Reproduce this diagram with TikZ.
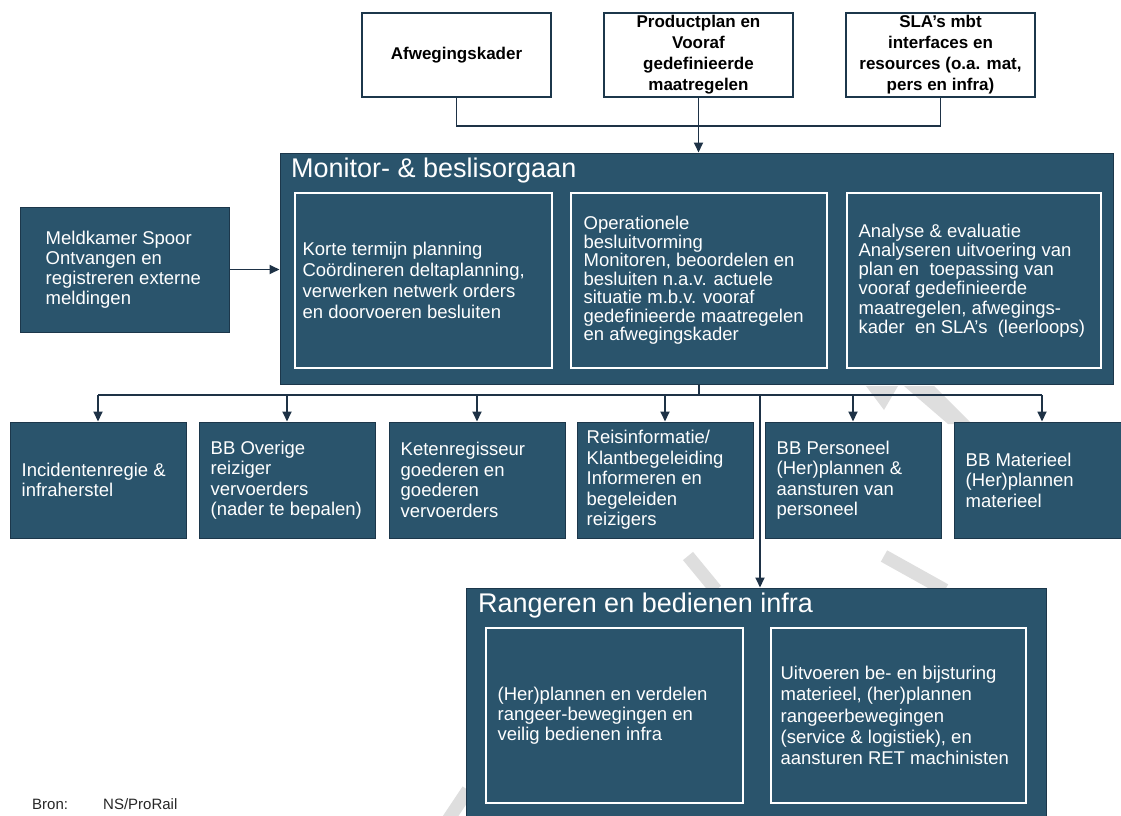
\documentclass[tikz,border=0pt]{standalone}
\usepackage{fontspec}
\setmainfont{Liberation Sans}
\usetikzlibrary{arrows.meta}
\definecolor{boxfill}{RGB}{42,84,108}
\definecolor{boxline}{RGB}{28,55,75}
\definecolor{conncol}{RGB}{30,50,70}
\definecolor{wmark}{RGB}{222,222,222}
\begin{document}
\begin{tikzpicture}[x=1pt,y=-1pt,
  darkbox/.style={draw=boxline, fill=boxfill, line width=1pt, rectangle, inner sep=0pt},
  innerbox/.style={draw=white, line width=1.2pt, rectangle, inner sep=0pt},
  topbox/.style={draw=boxline, fill=white, line width=1.3pt, rectangle, inner sep=0pt,
    minimum width=189pt, minimum height=84pt,
    font=\fontsize{17}{21}\selectfont\bfseries, align=center, text=black},
  wtext/.style={text=white, align=left, anchor=west, inner sep=0pt, font=\fontsize{18.5}{20.5}\selectfont},
  lowbox/.style={darkbox, minimum width=176pt, minimum height=116pt},
  titletext/.style={text=white, anchor=base west, inner sep=0pt, font=\fontsize{27}{30}\selectfont},
  conn/.style={draw=conncol, line width=1.8pt},
  arr/.style={conn, -{Triangle[length=10pt,width=9pt]}},
  srctext/.style={anchor=base west, inner sep=0pt, font=\fontsize{15}{17}\selectfont, text=black!85},
  wm/.style={draw=wmark, line width=13pt},
]
\useasboundingbox (0,0) rectangle (1121,816);
\clip (0,0) rectangle (1121,816);

% faint watermark strokes (background)
\fill[wmark] (866,386) -- (898,386) -- (884,410) -- cycle;
\fill[wmark] (904,386) -- (934,386) -- (972,424) -- (948,424) -- cycle;
\draw[wm] (688,556) -- (716,590);
\draw[wm] (884,556) -- (945,590);
\draw[wm] (448,820) -- (468,790);

% top boxes
\node[topbox] (afw) at (456.5,55) {Afwegingskader};
\node[topbox] (prod) at (698.5,55) {Productplan en\\Vooraf\\gedefinieerde\\maatregelen};
\node[topbox] (sla) at (940.5,55) {SLA’s mbt\\interfaces en\\resources (o.a. mat,\\pers en infra)};

% monitor
\node[darkbox, minimum width=833pt, minimum height=231pt] (mon) at (696.5,268.5) {};
\node[titletext] (montitle) at (291,177) {Monitor- \& beslisorgaan};
\node[innerbox, minimum width=257pt, minimum height=175pt] (korte) at (423.5,280.5) {};
\node[wtext, font=\fontsize{18.5}{21}\selectfont] (korte-t) at ([xshift=8pt]korte.west)
  {Korte termijn planning\\Coördineren deltaplanning,\\verwerken netwerk orders\\en doorvoeren besluiten};
\node[innerbox, minimum width=256pt, minimum height=175pt] (oper) at (699,280.5) {};
\node[wtext, font=\fontsize{18.5}{18.5}\selectfont] (oper-t) at ([xshift=13pt]oper.west)
  {Operationele\\besluitvorming\\Monitoren, beoordelen en\\besluiten n.a.v. actuele\\situatie m.b.v. vooraf\\gedefinieerde maatregelen\\en afwegingskader};
\node[innerbox, minimum width=254pt, minimum height=175pt] (ana) at (974,280.5) {};
\node[wtext, font=\fontsize{18.5}{19.3}\selectfont] (ana-t) at ([xshift=12pt]ana.west)
  {Analyse \& evaluatie\\Analyseren uitvoering van\\plan en\ \ toepassing van\\vooraf gedefinieerde\\maatregelen, afwegings-\\kader\ \ en SLA’s\ \ (leerloops)};

% meldkamer
\node[darkbox, minimum width=209pt, minimum height=125pt] (meld) at (124.5,269.5) {};
\node[wtext, font=\fontsize{18.5}{20}\selectfont] (meld-t) at ([xshift=26pt]meld.west)
  {Meldkamer Spoor\\Ontvangen en\\registreren externe\\meldingen};

% lower boxes
\node[lowbox] (inc) at (98,480) {};
\node[wtext] (inc-t) at ([xshift=12pt]inc.west) {Incidentenregie \&\\infraherstel};
\node[lowbox] (ovr) at (287,480) {};
\node[wtext] (ovr-t) at ([xshift=12pt]ovr.west) {BB Overige\\reiziger\\vervoerders\\(nader te bepalen)};
\node[lowbox] (ket) at (477,480) {};
\node[wtext] (ket-t) at ([xshift=12pt]ket.west) {Ketenregisseur\\goederen en\\goederen\\vervoerders};
\node[lowbox] (rei) at (665,480) {};
\node[wtext] (rei-t) at ([xshift=10pt]rei.west) {Reisinformatie/\\Klantbegeleiding\\Informeren en\\begeleiden\\reizigers};
\node[lowbox] (per) at (853,480) {};
\node[wtext] (per-t) at ([xshift=12pt]per.west) {BB Personeel\\(Her)plannen \&\\aansturen van\\personeel};
\node[lowbox] (mat) at (1042,480) {};
\node[wtext] (mat-t) at ([xshift=12pt]mat.west) {BB Materieel\\(Her)plannen\\materieel};

% rangeren
\node[darkbox, minimum width=580pt, minimum height=242pt] (ran) at (756,709) {};
\node[titletext] (rantitle) at (478,612) {Rangeren en bedienen infra};
\node[innerbox, minimum width=257pt, minimum height=175pt] (ranl) at (614.5,715.5) {};
\node[wtext, font=\fontsize{18.5}{20}\selectfont] (ranl-t) at ([xshift=12pt]ranl.west)
  {(Her)plannen en verdelen\\rangeer-bewegingen en\\veilig bedienen infra};
\node[innerbox, minimum width=255pt, minimum height=175pt] (ranr) at (898.5,715.5) {};
\node[wtext, font=\fontsize{18.5}{21.2}\selectfont] (ranr-t) at ([xshift=10pt]ranr.west)
  {Uitvoeren be- en bijsturing\\materieel, (her)plannen\\rangeerbewegingen\\(service \& logistiek), en\\aansturen RET machinisten};

% source
\node[srctext] (bron) at (32,809) {Bron:};
\node[srctext] (bronv) at (103,809) {NS/ProRail};

% connectors
\coordinate (topbus) at (698.5,126);
\draw[conn] (afw.south) |- (topbus) -| (sla.south);
\draw[arr] (prod.south) -- (prod.south |- mon.north);
\draw[arr] (meld.east) -- (meld.east -| mon.west);

\coordinate (bus) at (699,395);
\coordinate (rbus) at (760,395);
\draw[conn] (mon.south -| bus) -- (bus);
\draw[conn] (inc.north |- bus) -- (mat.north |- bus);
\foreach \n in {inc,ovr,ket,rei,per,mat}{
  \draw[arr] (\n.north |- bus) -- (\n.north);
}
\draw[arr] (rbus) -- (rbus |- ran.north);
\end{tikzpicture}
\end{document}
